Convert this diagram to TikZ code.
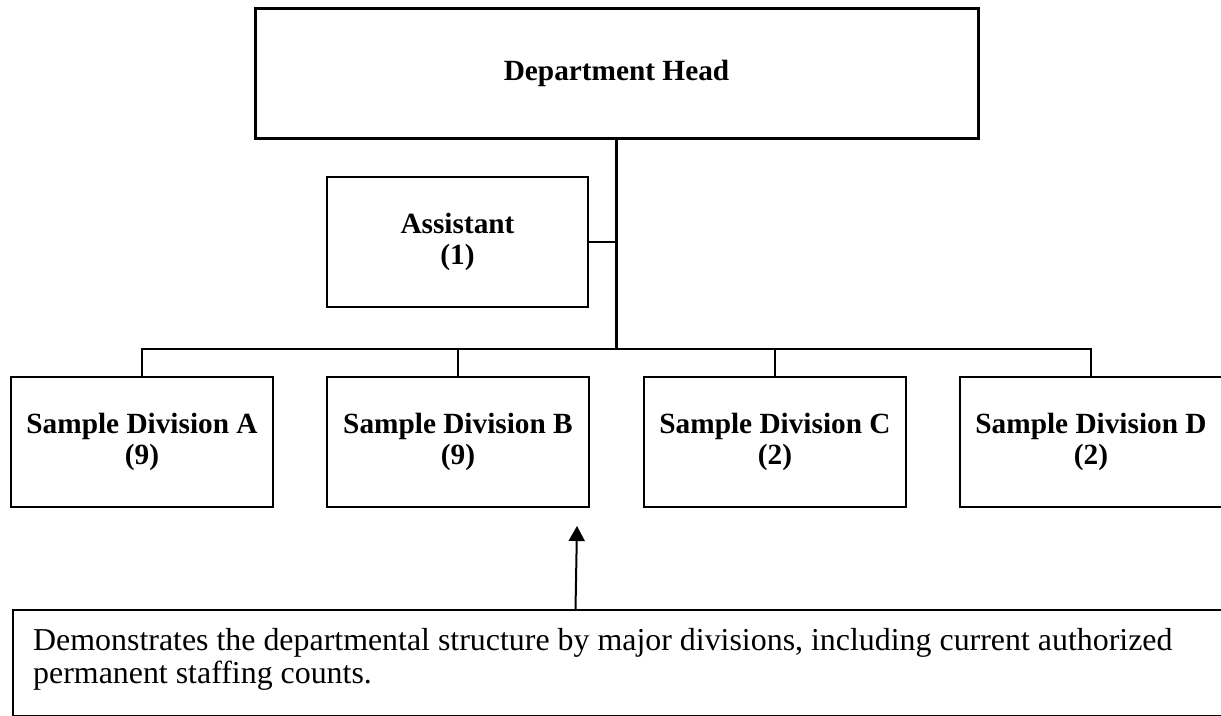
\documentclass[tikz,border=0pt]{standalone}
\usepackage{fontspec}
\setmainfont{Liberation Serif}
\usetikzlibrary{arrows.meta}
\begin{document}
\begin{tikzpicture}[x=1pt,y=-1pt,
  box/.style={draw=black, line width=2.5pt, inner sep=0pt, align=center,
    font=\fontsize{29.3}{31.5}\selectfont\bfseries},
  divbox/.style={box, minimum width=262pt, minimum height=130pt},
  link/.style={draw=black, line width=2.2pt},
  capbox/.style={draw=black, line width=2pt, inner sep=0pt},
  captext/.style={inner sep=0pt, align=left, font=\fontsize{31.9}{33}\selectfont}
]
\useasboundingbox (0,0) rectangle (1221,715);
% boxes
\node[box, line width=3pt, minimum width=723pt, minimum height=130pt] (head) at (616.5,73) {Department Head};
\node[box, minimum width=261pt, minimum height=130pt] (asst) at (457.5,242) {Assistant\\(1)};
\node[divbox] (divA) at (142,442) {Sample Division A\\(9)};
\node[divbox] (divB) at (458,442) {Sample Division B\\(9)};
\node[divbox] (divC) at (775,442) {Sample Division C\\(2)};
\node[divbox] (divD) at (1091,442) {Sample Division D\\(2)};
% caption box
\node[capbox, minimum width=1228pt, minimum height=105.5pt, anchor=north west] (cap) at (12,609) {};
\draw[gray!60, line width=1.5pt] (cap.south west) -- (cap.south east);
\node[captext, anchor=base west] (capt) at (33,683) {Demonstrates the departmental structure by major divisions, including current authorized\\permanent staffing counts.};
% connectors
\coordinate (j) at (616.5,349);
\draw[link] (head.south) -- (j);
\draw[link] (asst.east) -- (asst.east -| j);
\draw[link] (divA.north) -- (divA.north |- j) -- (divD.north |- j) -- (divD.north);
\draw[link] (divB.north) -- (divB.north |- j);
\draw[link] (divC.north) -- (divC.north |- j);
% arrow
\coordinate (abase) at (575.5,609);
\coordinate (atip) at (577,526);
\draw[line width=2pt, -{Triangle[width=16pt,length=15pt]}] (abase) -- (atip);
\end{tikzpicture}
\end{document}
